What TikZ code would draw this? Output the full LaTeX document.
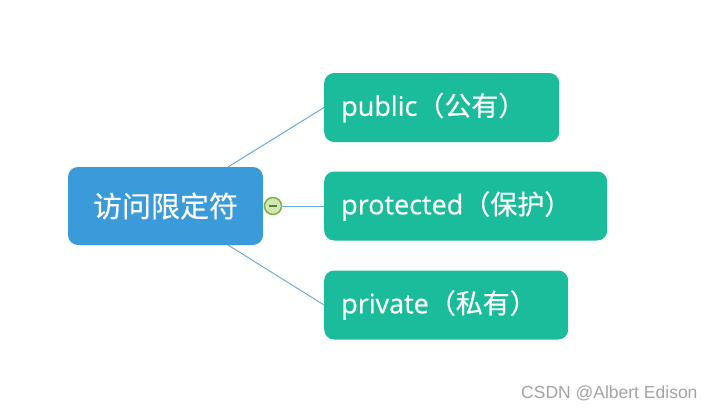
\documentclass[tikz,border=0pt]{standalone}
\usepackage{fontspec}
\setmainfont[FakeBold=0.4]{Open Sans}
\newfontfamily\cjk[FakeBold=0.3]{Noto Sans CJK SC}
\newfontfamily\wmfont{Liberation Sans}
\definecolor{rootblue}{HTML}{3A9ADA}
\definecolor{leafgreen}{HTML}{1BBC9C}
\definecolor{linkblue}{HTML}{6AAAD8}
\definecolor{knobring}{HTML}{7DB544}
\definecolor{knobfill}{HTML}{D3E7B5}
\definecolor{knobbar}{HTML}{5E7D3A}
\definecolor{wmgray}{HTML}{A3A3A3}
\begin{document}
\begin{tikzpicture}[x=1pt,y=-1pt,
  rootbox/.style={fill=rootblue, rounded corners=10pt, text=white, inner sep=0pt,
    minimum width=195pt, minimum height=78pt, font=\cjk\fontsize{29}{32}\selectfont},
  leafbox/.style={fill=leafgreen, rounded corners=10pt, text=white, inner ysep=0pt,
    inner xsep=17pt, minimum height=69pt, align=left, anchor=west,
    font=\fontsize{27}{30}\selectfont},
  link/.style={draw=linkblue, line width=1pt},
  wm/.style={text=wmgray, font=\wmfont\fontsize{17.5}{20}\selectfont, inner sep=0pt}
]
\useasboundingbox (0,0) rectangle (714,410);
\node[rootbox] (root) at (165.5,206) {访问限定符};
\node[leafbox, text width=201pt] (pub) at (324,107.5) {public{\cjk （公有）}};
\node[leafbox, text width=249pt] (pro) at (324,206) {protected{\cjk （保护）}};
\node[leafbox, text width=210pt] (pri) at (324,305) {private{\cjk （私有）}};
\coordinate (rtop) at (228,167);
\coordinate (rbot) at (228,245);
\draw[link] (rtop) -- (pub.west);
\draw[link] (rbot) -- (pri.west);
\node[circle, draw=knobring, fill=knobfill, line width=1.5pt, minimum size=17pt, inner sep=0pt] (knob) at (273,206) {};
\draw[link] (knob.east) -- (pro.west);
\draw[knobbar, line width=2pt] ([xshift=-4pt]knob.center) -- ([xshift=4pt]knob.center);
\node[wm, anchor=west] (mark) at (521,393) {CSDN @Albert Edison};
\end{tikzpicture}
\end{document}
